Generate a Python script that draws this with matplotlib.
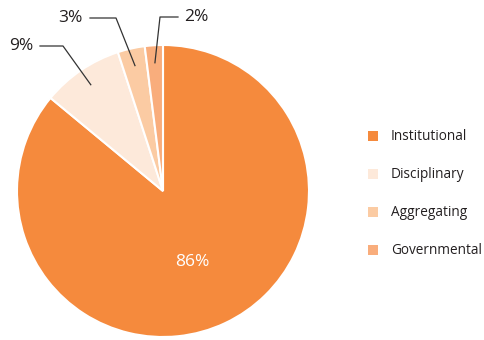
import numpy as np
import matplotlib.pyplot as plt

labels = ["Institutional", "Disciplinary", "Aggregating", "Governmental"]
shares = [86, 9, 3, 2]
colors = ["#F58A3D", "#FDE9DA", "#FBCBA3", "#F9AD7C"]

plt.rcParams['font.family'] = ['Open Sans', 'DejaVu Sans']

fig = plt.figure(figsize=(4.84, 3.4), dpi=100)
ax = fig.add_axes([0, 0, 1, 1])

cx, cy, R = 163, 149, 146
wedges, _ = ax.pie(shares, colors=colors, startangle=90, counterclock=False,
                   center=(cx, cy), radius=R,
                   wedgeprops=dict(edgecolor='white', linewidth=1.5))
ax.set_xlim(0, 484)
ax.set_ylim(0, 340)
ax.set_aspect('equal')
ax.axis('off')

# big slice label inside
ax.text(cx + 29, cy - 71, f"{shares[0]}%", color='white', fontsize=12.5,
        ha='center', va='center')

# leader lines for small slices: (elbow x, elbow y, end x, text side)
leaders = [(63, 294, 40, 'right'), (116, 322, 90, 'right'), (160, 323, 178, 'left')]
for wdg, val, (ex, ey, tx, side) in zip(wedges[1:], shares[1:], leaders):
    mid = np.deg2rad((wdg.theta1 + wdg.theta2) / 2)
    sx = cx + 0.88 * R * np.cos(mid)
    sy = cy + 0.88 * R * np.sin(mid)
    ax.plot([sx, ex, tx], [sy, ey, ey], color='#333333', lw=0.9)
    if side == 'right':
        ax.text(tx - 7, ey, f"{val}%", ha='right', va='center', fontsize=12.5, color='#231F20')
    else:
        ax.text(tx + 6, ey, f"{val}%", ha='left', va='center', fontsize=12.5, color='#231F20')

# legend
for i, (lab, col) in enumerate(zip(labels, colors)):
    y = 340 - (136 + i * 38)
    ax.add_patch(plt.Rectangle((368, y - 5), 10, 10, color=col, lw=0))
    ax.text(391, y, lab, ha='left', va='center', fontsize=9.8, color='#231F20')

fig.savefig("out.png", dpi=100)
